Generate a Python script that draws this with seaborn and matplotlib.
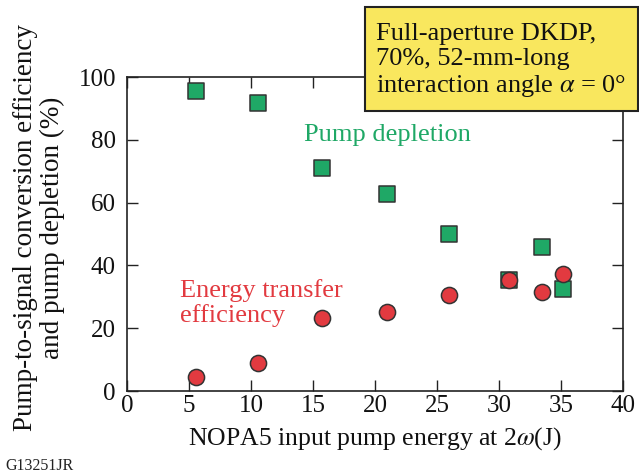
import matplotlib
matplotlib.use("Agg")
import matplotlib.pyplot as plt
import seaborn as sns
import pandas as pd
from matplotlib.patches import Rectangle

# Data
pump_energy_depl = [5.6, 10.6, 15.7, 21.0, 26.0, 30.8, 33.5, 35.2]
pump_depletion = [95.5, 91.7, 71.0, 62.7, 50.0, 35.5, 46.0, 32.5]
pump_energy_eff = [5.6, 10.6, 15.7, 21.0, 26.0, 30.8, 33.5, 35.2]
transfer_eff = [4.3, 8.9, 23.2, 25.2, 30.6, 35.4, 31.5, 37.3]

x_ticks = [0, 5, 10, 15, 20, 25, 30, 35, 40]
y_ticks = [0, 20, 40, 60, 80, 100]

GREEN = "#1fa866"
RED = "#e23a40"
YELLOW = "#f9e75e"

sns.set_theme(style="ticks")
plt.rcParams["font.family"] = ["Liberation Serif", "DejaVu Serif"]
plt.rcParams["mathtext.fontset"] = "stix"

fig = plt.figure(figsize=(6.39, 4.76), dpi=100)
ax = fig.add_axes([127 / 639, 1 - 391 / 476, (623 - 127) / 639, (391 - 77) / 476])

df_d = pd.DataFrame({"x": pump_energy_depl, "y": pump_depletion})
df_e = pd.DataFrame({"x": pump_energy_eff, "y": transfer_eff})

sns.scatterplot(data=df_d, x="x", y="y", ax=ax, marker="s", s=120,
                color=GREEN, edgecolor="#333333", linewidth=1.1, zorder=3)
sns.scatterplot(data=df_e, x="x", y="y", ax=ax, marker="o", s=135,
                color=RED, edgecolor="#333333", linewidth=1.1, zorder=4)

ax.set_xlim(0, 40)
ax.set_ylim(0, 100)
ax.set_xticks(x_ticks)
ax.set_yticks(y_ticks)
ax.set_xticklabels([str(t) for t in x_ticks])
ax.set_yticklabels([str(t) for t in y_ticks])

for s in ax.spines.values():
    s.set_visible(True)
    s.set_linewidth(1.2)
    s.set_color("#222222")

ax.tick_params(axis="both", direction="in", length=8, width=1.0,
               top=True, right=True, labelsize=18, colors="#222222",
               labelcolor="#111111")
ax.tick_params(axis="x", pad=3)
ax.tick_params(axis="y", pad=8)

ax.set_xlabel("NOPA5 input pump energy at 2$\\omega$(J)", fontsize=18.5,
              labelpad=6, color="#111111")
ax.set_ylabel("Pump-to-signal conversion efficiency\nand pump depletion (%)",
              fontsize=19.5, color="#111111", linespacing=1.1)
ax.yaxis.set_label_coords(-0.125, 0.52)

ax.text(304 / 639, 1 - 135 / 476, "Pump depletion", transform=fig.transFigure,
        color=GREEN, fontsize=19, va="center", ha="left")
ax.text(180 / 639, 1 - 303 / 476, "Energy transfer\nefficiency",
        transform=fig.transFigure, color=RED, fontsize=19, va="center",
        ha="left", linespacing=1.1)

# annotation box
rect = Rectangle((365 / 639, 1 - 111 / 476), (638 - 365) / 639, (111 - 7) / 476,
                 transform=fig.transFigure, facecolor=YELLOW, edgecolor="#222222",
                 linewidth=1.5, zorder=10)
fig.patches.append(rect)
fig.text(376 / 639, 1 - 61 / 476,
         "Full-aperture DKDP,\n70%, 52-mm-long\ninteraction angle $\\alpha$ = 0°",
         fontsize=19, va="center", ha="left", color="#111111",
         linespacing=1.15, zorder=11)

fig.text(5 / 639, 1 - 466 / 476, "G13251JR", fontsize=11.5, va="center",
         ha="left", color="#222222")

fig.savefig("out.png", dpi=100)
